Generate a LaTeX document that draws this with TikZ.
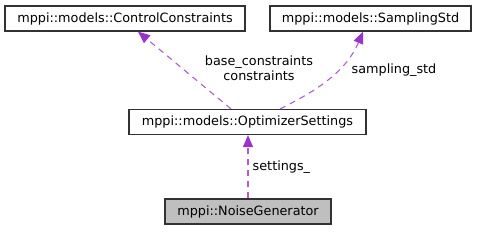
\documentclass[tikz,border=0pt]{standalone}
\usepackage{fontspec}
\setmainfont{DejaVu Sans}
\usetikzlibrary{arrows.meta}

\definecolor{edgecol}{RGB}{154,50,205}
\definecolor{boxline}{RGB}{50,50,50}
\definecolor{boxfill}{RGB}{191,191,191}

\begin{document}
\begin{tikzpicture}[x=1pt,y=1pt,
  font=\fontsize{12.8}{15}\selectfont,
  cls/.style={draw=boxline,line width=1.2pt,minimum height=25pt,inner sep=0pt},
  here/.style={cls,fill=boxfill},
  uses/.style={draw=edgecol!80,line width=1.1pt,dash pattern=on 6pt off 5pt,
    -{Triangle[length=12pt,width=10pt,color=edgecol]}},
  lbl/.style={inner sep=0pt,align=center}]
\useasboundingbox (0,0) rectangle (477,231);
\node[cls,minimum width=240pt] (cc) at (125,212.5) {mppi::models::ControlConstraints};
\node[cls,minimum width=201pt] (ss) at (370.5,212.5) {mppi::models::SamplingStd};
\node[cls,minimum width=237pt] (os) at (247.5,109) {mppi::models::OptimizerSettings};
\node[here,minimum width=166pt] (ng) at (248,19.5) {mppi::NoiseGenerator};
% members
\draw[uses] ([xshift=-16.5pt]os.north) -- ([xshift=13pt]cc.south);
\draw[uses] ([xshift=32.5pt]os.north) .. controls +(30,15) and +(-18,-43) .. ([xshift=-7.5pt]ss.south);
\draw[uses] (ng.north) -- (ng.north |- os.south);
\node[lbl] (lcc) at (259,162.5) {base\_constraints\\constraints};
\node[lbl] (lss) at (394,161) {sampling\_std};
\node[lbl,anchor=west] (los) at (252.5,64) {settings\_};
\end{tikzpicture}
\end{document}
